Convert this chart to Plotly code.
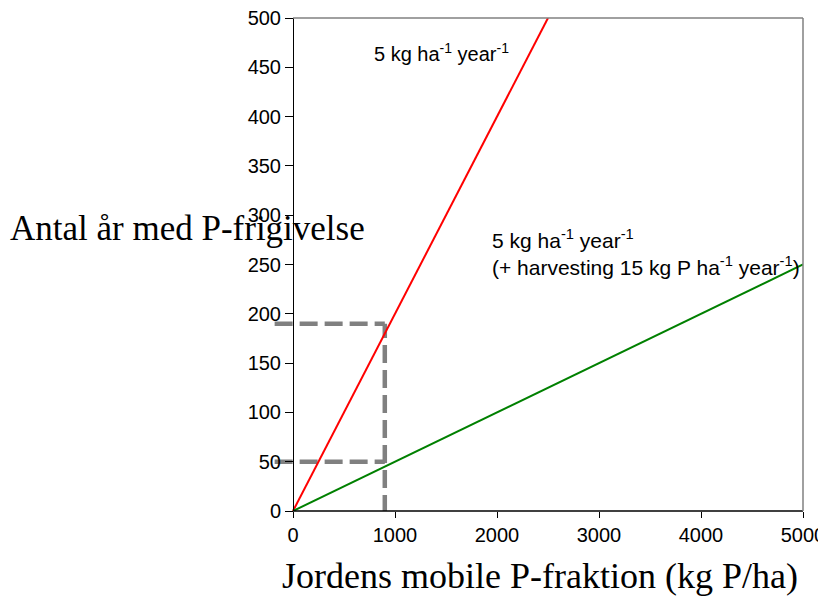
import plotly.graph_objects as go

# Data
x_red = [0, 2500]
y_red = [0, 500]
x_green = [0, 5000]
y_green = [0, 250]
# guide lines (dashed)
x_vert = [900, 900]
y_vert = [-2, 190]
x_h190 = [-180, 900]
y_h190 = [190, 190]
x_h50 = [-180, 900]
y_h50 = [50, 50]
x_ticks = [0, 1000, 2000, 3000, 4000, 5000]
y_ticks = [0, 50, 100, 150, 200, 250, 300, 350, 400, 450, 500]

OFF = 8            # page body margin
W, H = 826 - OFF, 596 - OFF
# target plot box in screen pixels
PL, PR, PT, PB = 293, 803, 18, 511
ML = 270 - OFF
MR = W - (PR - OFF)
MT = PT - OFF
MB = H - (PB - OFF)
plot_w = W - ML - MR
plot_h = H - MT - MB
xmin = -5000 * (PL - OFF - ML) / (PR - PL)
ypos = (PL - OFF - ML) / plot_w


def px(sx):
    return (sx - OFF - ML) / plot_w


def py(sy):
    return ((PB - OFF) - (sy - OFF)) / plot_h


fig = go.Figure()
dash_style = dict(color="#808080", width=4.5, dash="18px,7px")
for xs, ys in [(x_h190, y_h190), (x_h50, y_h50), (x_vert, y_vert)]:
    fig.add_trace(go.Scatter(x=xs, y=ys, mode="lines",
                             line=dash_style, showlegend=False, hoverinfo="skip"))
fig.add_trace(go.Scatter(x=x_red, y=y_red, mode="lines",
                         line=dict(color="#ff0000", width=2), showlegend=False))
fig.add_trace(go.Scatter(x=x_green, y=y_green, mode="lines",
                         line=dict(color="#008000", width=2), showlegend=False))

sans = "Liberation Sans, Arial, sans-serif"
serif = "Liberation Serif, Georgia, serif"

fig.update_layout(
    width=W, height=H, autosize=False,
    margin=dict(l=ML, r=MR, t=MT, b=MB, pad=0, autoexpand=False),
    paper_bgcolor="white", plot_bgcolor="white",
    xaxis=dict(range=[xmin, 5000], tickvals=x_ticks, automargin=False,
               ticklabeloverflow="allow",
               showgrid=False, zeroline=False, showline=False,
               ticks="outside", ticklen=6, tickcolor="black",
               tickfont=dict(family=sans, size=20, color="black")),
    yaxis=dict(range=[0, 500], tickvals=y_ticks, anchor="free", position=ypos,
               automargin=False, ticklabeloverflow="allow",
               showgrid=False, zeroline=False, showline=True, linecolor="black",
               linewidth=1, ticks="outside", ticklen=8, tickcolor="black",
               tickfont=dict(family=sans, size=20, color="black")),
    shapes=[
        # bottom axis line (x = 0 .. 5000)
        dict(type="line", xref="x", yref="paper", x0=0, x1=5000, y0=0, y1=0,
             line=dict(color="black", width=1.5)),
        # top frame
        dict(type="line", xref="x", yref="paper", x0=0, x1=5000, y0=1, y1=1,
             line=dict(color="#808080", width=1.5)),
        # right frame
        dict(type="line", xref="paper", yref="paper", x0=1, x1=1, y0=0, y1=1,
             line=dict(color="#808080", width=1.5)),
    ],
    annotations=[
        dict(text="Antal år med P-frigivelse", xref="paper", yref="paper",
             x=px(8), y=py(228), xanchor="left", yanchor="middle",
             showarrow=False, font=dict(family=serif, size=35, color="black")),
        dict(text="Jordens mobile P-fraktion (kg P/ha)", xref="paper", yref="paper",
             x=px(540), y=py(576), xanchor="center", yanchor="middle",
             showarrow=False, font=dict(family=serif, size=36, color="black")),
        dict(text="5 kg ha<sup>-1</sup> year<sup>-1</sup>", xref="x", yref="y",
             x=775, y=465, xanchor="left", yanchor="middle", showarrow=False,
             font=dict(family=sans, size=20, color="black")),
        dict(text="5 kg ha<sup>-1</sup> year<sup>-1</sup><br>(+ harvesting 15 kg P ha<sup>-1</sup> year<sup>-1</sup>)",
             xref="x", yref="y", x=1931, y=262, xanchor="left", yanchor="middle",
             align="left", showarrow=False,
             font=dict(family=sans, size=21, color="black")),
    ],
)

fig.write_html("out.html")
